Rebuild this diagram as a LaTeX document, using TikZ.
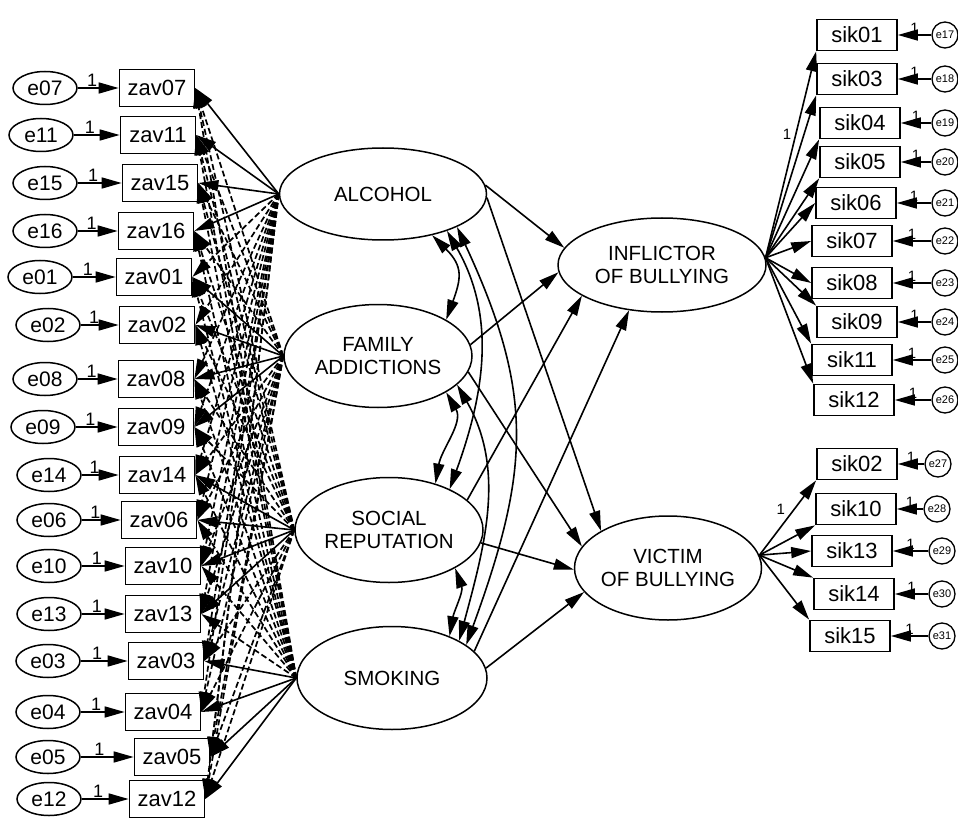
\documentclass[tikz,border=0pt]{standalone}
\usepackage{fontspec}
\setmainfont{Liberation Sans}
\usetikzlibrary{arrows.meta,shapes.geometric}
\begin{document}
\begin{tikzpicture}[x=1pt,y=-1pt,
  >={Triangle[length=20pt,width=11pt]},
  lat/.style={draw, ellipse, line width=1.5pt, inner sep=0pt, align=center, font=\fontsize{20.5}{23}\selectfont},
  obs/.style={draw, rectangle, line width=1.7pt, minimum width=75pt, minimum height=37pt, inner sep=0pt, font=\fontsize{22}{24}\selectfont},
  sikbox/.style={obs, minimum width=80pt, minimum height=31pt},
  errl/.style={draw, ellipse, line width=1.5pt, minimum width=64pt, minimum height=33pt, inner sep=0pt, font=\fontsize{21}{22}\selectfont},
  errr/.style={draw, circle, line width=1.3pt, minimum size=26pt, inner sep=0pt, font=\fontsize{11}{11}\selectfont},
  reg/.style={line width=1.6pt, ->},
  cross/.style={line width=1.7pt, ->, dash pattern=on 6pt off 3pt},
  cov/.style={line width=1.6pt, <->},
  onel/.style={font=\fontsize{18}{18}\selectfont, inner sep=1pt},
  oner/.style={font=\fontsize{15}{15}\selectfont, inner sep=1pt}
]
\useasboundingbox (0,0) rectangle (958,818);

% latent factors
\node[lat, minimum width=207pt, minimum height=92pt] (alc) at (383,194) {ALCOHOL};
\node[lat, minimum width=188pt, minimum height=103pt] (fam) at (378,356) {FAMILY\\ADDICTIONS};
\node[lat, minimum width=188pt, minimum height=105pt] (soc) at (389,530) {SOCIAL\\REPUTATION};
\node[lat, minimum width=190pt, minimum height=103pt] (smk) at (392,678) {SMOKING};
\node[lat, minimum width=208pt, minimum height=94pt] (infl) at (662,265) {INFLICTOR\\OF BULLYING};
\node[lat, minimum width=187pt, minimum height=104pt, inner xsep=-4pt] (vict) at (668,568) {VICTIM\\OF BULLYING};

% left indicators and errors
\foreach \n/\bx/\ex/\y in {07/157/45/88, 11/158/41/135, 15/160/45/183, 16/156/45/231,
  01/154/40/277, 02/157/48/325, 08/156/45/379, 09/156/43/427,
  14/157/49/475, 06/159/49/520, 10/163/49/566, 13/163/49/614,
  03/166/48/661, 04/163/48/712, 05/172/48/757, 12/167/49/799}{
  \node[obs] (zav\n) at (\bx,\y) {zav\n};
  \node[errl] (e\n) at (\ex,\y) {e\n};
  \draw[reg] (e\n) -- node[onel, pos=0.35, above] {1} (zav\n);
}

% cross loadings (dashed look)
\foreach \z in {01,02,08,09,14,06,10,13,03,04,05,12} \draw[cross] (alc.west) -- (zav\z.east);
\foreach \z in {07,11,15,16,14,06,10,13,03,04,05,12} \draw[cross] (fam.west) -- (zav\z.east);
\foreach \z in {07,11,15,16,01,02,08,09,03,04,05,12} \draw[cross] (soc.west) -- (zav\z.east);
\foreach \z in {07,11,15,16,01,02,08,09,14,06,10,13} \draw[cross] (smk.west) -- (zav\z.east);
% main loadings
\foreach \z in {07,11,15,16} \draw[reg] (alc.west) -- (zav\z.east);
\foreach \z in {01,02,08,09} \draw[reg] (fam.west) -- (zav\z.east);
\foreach \z in {14,06,10,13} \draw[reg] (soc.west) -- (zav\z.east);
\foreach \z in {03,04,05,12} \draw[reg] (smk.west) -- (zav\z.east);

% covariances
\draw[cov] (alc.-40) .. controls +(-45:44pt) and +(70:44pt) .. (fam.28);
\draw[cov] (alc.-30) .. controls +(-60:100pt) and +(70:100pt) .. (soc.34);
\draw[cov] (alc.-24) .. controls +(-65:185pt) and +(70:185pt) .. (smk.24);
\draw[cov] (fam.-28) .. controls +(-60:35pt) and +(80:35pt) .. (soc.45);
\draw[cov] (fam.-20) .. controls +(-60:98pt) and +(75:98pt) .. (smk.29);
\draw[cov] (soc.-30) .. controls +(-70:25pt) and +(80:25pt) .. (smk.36);

% structural paths
\draw[reg] (alc.5) -- (infl.170);
\draw[reg] (alc.-2) -- (vict.151);
\draw[reg] (fam.7) -- (infl.184);
\draw[reg] (fam.-10) -- (vict.166);
\draw[reg] (soc.21) -- (infl.201);
\draw[reg] (soc.-8) -- (vict.181);
\draw[reg] (smk.18) -- (infl.234);
\draw[reg] (smk.6) -- (vict.196);

% right indicators
\foreach \n/\bx/\y in {01/857/35, 03/857/79, 04/860/123, 05/860/162, 06/856/203,
  07/852/241, 08/852/283, 09/857/322, 11/852/360, 12/854/400,
  02/857/464, 10/856/509, 13/852/551, 14/854/594, 15/850/636}{
  \node[sikbox] (sik\n) at (\bx,\y) {sik\n};
}
\foreach \e/\n/\ex/\y in {17/01/945/35, 18/03/945/79, 19/04/945/123, 20/05/945/162, 21/06/945/203,
  22/07/945/241, 23/08/945/283, 24/09/945/322, 25/11/945/360, 26/12/945/400,
  27/02/938/464, 28/10/937/509, 29/13/942/551, 30/14/942/594, 31/15/942/636}{
  \node[errr] (e\e) at (\ex,\y) {e\e};
  \draw[reg] (e\e) -- node[oner, pos=0.5, above] {1} (sik\n);
}

\draw[reg] (infl.4) -- node[oner, pos=0.6, left=3pt] {1} (sik01.south west);
\foreach \s in {03,04,05} \draw[reg] (infl.4) -- (sik\s.south west);
\foreach \s in {06,07,08} \draw[reg] (infl.4) -- (sik\s.west);
\foreach \s in {09,11,12} \draw[reg] (infl.4) -- (sik\s.north west);
\draw[reg] (vict.8) -- node[oner, pos=0.5, above left=1pt] {1} (sik02.south west);
\draw[reg] (vict.8) -- (sik10.south west);
\draw[reg] (vict.8) -- (sik13.west);
\foreach \s in {14,15} \draw[reg] (vict.8) -- (sik\s.north west);
\end{tikzpicture}
\end{document}
